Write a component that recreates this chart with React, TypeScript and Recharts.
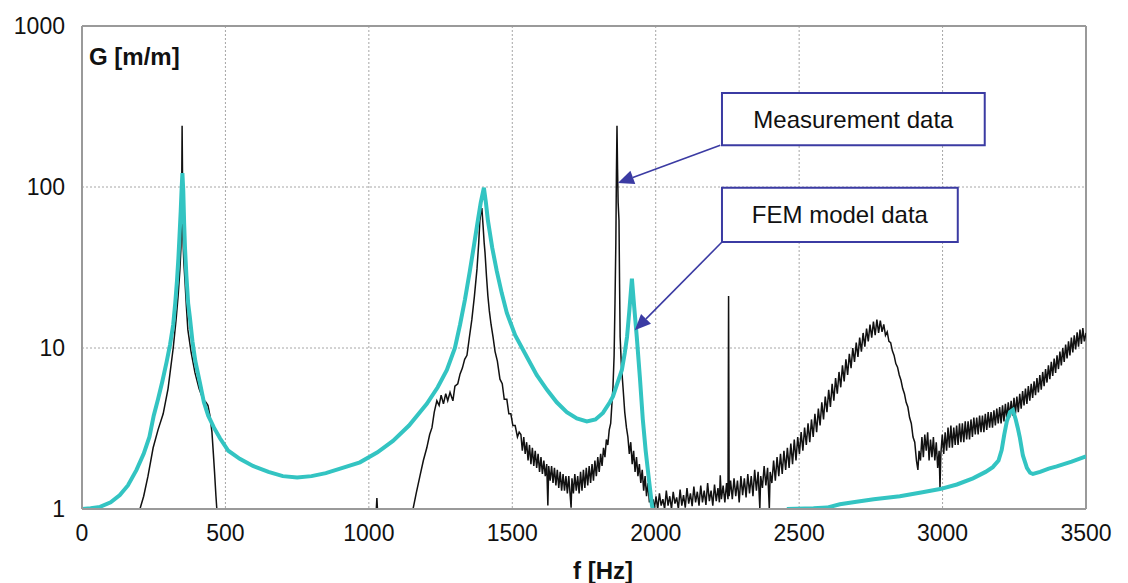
import {
  LineChart,
  Line,
  XAxis,
  YAxis,
  CartesianGrid,
  ReferenceLine,
  ReferenceArea,
  Label,
} from 'recharts';

// frequency [Hz] -> gain G [m/m]; null breaks the trace where it drops below 1
const measurement: [number, number | null][] = [
  [202, 1.0], [215, 1.2], [230, 1.6], [248, 2.4], [265, 3.1], [283, 3.9], [300, 5.6], [318, 10],
  [328, 15], [335, 21], [341, 30], [345, 42], [347, 70], [349, 240], [351, 90], [352, 47],
  [355, 34], [359, 26], [364, 18], [369, 13], [380, 9.5], [394, 7], [408, 5.6], [422, 4.8],
  [432, 4.6], [439, 4.4], [446, 3.8], [453, 3.0], [458, 2.2], [462, 1.7], [467, 1.2], [470, 1.0],
  [471, null],
  [1026, 1.0], [1028, 1.17], [1030, 1.0], [1031, null],
  [1154, 1.0], [1165, 1.25], [1178, 1.6], [1190, 2.0], [1202, 2.4], [1212, 2.9], [1220, 3.2],
  [1228, 4.0], [1237, 4.7], [1245, 4.4], [1252, 5.1], [1260, 4.5], [1268, 5.2], [1275, 4.7],
  [1283, 5.3], [1293, 4.7], [1300, 5.8], [1310, 6.0], [1318, 6.9], [1326, 7.5], [1334, 8.5],
  [1342, 9.0], [1350, 11.5], [1359, 15], [1368, 21], [1377, 31], [1383, 45], [1387, 62],
  [1390, 68], [1394, 74], [1398, 58], [1402, 45], [1405, 39], [1410, 28], [1415, 21], [1420, 17],
  [1426, 14], [1433, 11.7], [1440, 9.5], [1448, 8.3], [1457, 6.4], [1465, 6.0], [1472, 4.8],
  [1481, 4.8], [1488, 3.9], [1495, 3.9], [1502, 3.3], [1510, 3.3], [1518, 2.8], [1524, 3.0],
  [1530, 2.9], [1535, 2.3], [1540, 2.8], [1545, 2.2], [1550, 2.6], [1555, 2.0], [1560, 2.5],
  [1565, 1.9], [1570, 2.4], [1575, 1.85], [1580, 2.3], [1585, 1.8], [1590, 2.2], [1595, 1.7],
  [1600, 2.1], [1605, 1.65], [1610, 2.0], [1615, 1.6], [1620, 1.9], [1624, 1.05], [1627, 1.85],
  [1632, 1.5], [1637, 1.85], [1642, 1.45], [1647, 1.8], [1652, 1.4], [1657, 1.75], [1662, 1.35],
  [1667, 1.7], [1672, 1.3], [1677, 1.65], [1682, 1.3], [1687, 1.6], [1692, 1.25], [1697, 1.6],
  [1702, 1.2], [1705, 1.02], [1708, 1.55], [1713, 1.25], [1718, 1.65], [1723, 1.3], [1728, 1.6],
  [1733, 1.25], [1738, 1.7], [1743, 1.3], [1748, 1.75], [1753, 1.35], [1758, 1.8], [1763, 1.4],
  [1768, 1.85], [1773, 1.45], [1778, 1.9], [1783, 1.5], [1788, 2.0], [1793, 1.6], [1798, 2.1],
  [1803, 1.7], [1808, 2.2], [1813, 1.85], [1818, 2.4], [1823, 2.1], [1828, 2.7], [1833, 2.5],
  [1838, 3.1], [1843, 3.4], [1847, 4.4], [1851, 5.7], [1855, 9], [1858, 19], [1861, 45],
  [1863, 120], [1865, 240], [1867, 130], [1869, 80], [1872, 62], [1874, 25], [1876, 11.7],
  [1880, 8], [1886, 5.7], [1892, 4.0], [1898, 3.2], [1903, 2.8], [1908, 2.2], [1913, 2.6],
  [1918, 1.9], [1923, 2.3], [1928, 1.7], [1933, 2.1], [1938, 1.6], [1943, 1.9], [1948, 1.45],
  [1953, 1.75], [1958, 1.3], [1963, 1.6], [1968, 1.2], [1973, 1.45], [1978, 1.1], [1983, 1.3],
  [1988, 1.0], [1991, 1.15],
  [1995, 1.0], [2001, 1.2], [2007, 1.0], [2013, 1.25], [2019, 1.05], [2025, 1.15], [2031, 1.0],
  [2037, 1.3], [2043, 1.05], [2049, 1.2], [2055, 1.0], [2061, 1.28], [2067, 1.08], [2073, 1.18],
  [2079, 1.0], [2085, 1.32], [2091, 1.05], [2097, 1.22], [2103, 1.02], [2109, 1.35], [2115, 1.08],
  [2121, 1.25], [2127, 1.04], [2133, 1.38], [2139, 1.1], [2145, 1.28], [2151, 1.05], [2157, 1.4],
  [2163, 1.1], [2169, 1.3], [2175, 1.06], [2181, 1.45], [2187, 1.12], [2193, 1.3], [2199, 1.05],
  [2205, 1.42], [2211, 1.12], [2217, 1.35], [2222, 1.1], [2225, 1.62], [2229, 1.15], [2235, 1.4],
  [2241, 1.1], [2247, 1.45], [2252, 1.15], [2254, 21], [2256, 1.2], [2261, 1.5], [2267, 1.15],
  [2273, 1.55], [2279, 1.2], [2285, 1.5], [2291, 1.1], [2297, 1.6], [2303, 1.22], [2309, 1.55],
  [2315, 1.18], [2321, 1.65], [2327, 1.25], [2333, 1.6], [2339, 1.2], [2345, 1.75], [2351, 1.3],
  [2357, 1.7], [2363, 1.0], [2366, 1.6], [2372, 1.35], [2378, 1.85], [2384, 1.4], [2390, 1.8],
  [2396, 1.0], [2399, 1.7], [2405, 1.45], [2411, 2.0], [2417, 1.5], [2423, 2.1], [2429, 1.6],
  [2435, 2.2], [2441, 1.65], [2447, 2.3], [2453, 1.75], [2459, 2.4], [2465, 1.8], [2471, 2.55],
  [2477, 1.9], [2483, 2.7], [2489, 2.0], [2495, 2.8], [2501, 2.2], [2507, 3.0], [2513, 2.3],
  [2519, 3.2], [2525, 2.5], [2531, 3.4], [2537, 2.6], [2543, 3.6], [2549, 2.8], [2555, 3.9],
  [2561, 3.0], [2567, 4.2], [2573, 3.3], [2579, 4.6], [2585, 3.6], [2591, 5.0], [2597, 4.0],
  [2603, 5.5], [2609, 4.3], [2615, 6.0], [2621, 4.7], [2627, 6.5], [2633, 5.2], [2639, 7.1],
  [2645, 5.7], [2651, 7.8], [2657, 6.2], [2663, 8.5], [2669, 6.8], [2675, 9.2], [2681, 7.5],
  [2687, 10.0], [2693, 8.2], [2699, 10.8], [2705, 8.8], [2711, 11.6], [2717, 9.5], [2723, 12.4],
  [2729, 10.2], [2735, 13.2], [2741, 11.0], [2747, 14.0], [2753, 11.6], [2759, 14.6], [2765, 12.0],
  [2771, 15.0], [2777, 12.4], [2783, 14.8], [2789, 12.6], [2795, 14.0], [2801, 12.0], [2807, 12.6],
  [2813, 11.0], [2819, 10.8], [2825, 9.6], [2831, 9.0], [2837, 8.0], [2843, 7.6], [2849, 6.8],
  [2855, 6.3], [2861, 5.6], [2867, 5.2], [2873, 4.6], [2879, 4.3], [2885, 3.7], [2891, 3.4],
  [2897, 2.8], [2903, 2.6], [2909, 2.0], [2914, 1.75], [2918, 2.3], [2923, 2.0], [2928, 2.8],
  [2933, 2.1], [2938, 2.9], [2943, 2.3], [2948, 3.0], [2953, 2.0], [2958, 2.7], [2963, 2.1],
  [2968, 2.8], [2973, 2.0], [2978, 2.6], [2983, 1.8], [2988, 2.3], [2991, 1.35], [2994, 2.2],
  [2999, 2.9], [3004, 2.2], [3009, 3.0], [3014, 2.3], [3019, 3.2], [3024, 2.4], [3029, 3.3],
  [3034, 2.4], [3039, 3.2], [3044, 2.5], [3049, 3.3], [3054, 2.5], [3059, 3.4], [3064, 2.6],
  [3069, 3.4], [3074, 2.6], [3079, 3.5], [3084, 2.7], [3089, 3.5], [3094, 2.7], [3099, 3.6],
  [3104, 2.8], [3109, 3.7], [3114, 2.9], [3119, 3.7], [3124, 2.9], [3129, 3.8], [3134, 3.0],
  [3139, 3.8], [3144, 3.0], [3149, 3.9], [3154, 3.1], [3159, 4.0], [3164, 3.2], [3169, 4.0],
  [3174, 3.2], [3179, 4.1], [3184, 3.3], [3189, 4.2], [3194, 3.4], [3199, 4.3], [3204, 3.4],
  [3209, 4.4], [3214, 3.5], [3219, 4.5], [3224, 3.6], [3229, 4.6], [3234, 3.7], [3239, 4.7],
  [3244, 3.8], [3249, 4.9], [3254, 3.9], [3259, 5.0], [3264, 4.0], [3269, 5.2], [3274, 4.2],
  [3279, 5.4], [3284, 4.4], [3289, 5.6], [3294, 4.5], [3299, 5.8], [3304, 4.7], [3309, 6.0],
  [3314, 4.9], [3319, 6.2], [3324, 5.1], [3329, 6.5], [3334, 5.3], [3339, 6.8], [3344, 5.5],
  [3349, 7.1], [3354, 5.8], [3359, 7.4], [3364, 6.1], [3369, 7.8], [3374, 6.4], [3379, 8.2],
  [3384, 6.7], [3389, 8.6], [3394, 7.0], [3399, 9.0], [3404, 7.4], [3409, 9.5], [3414, 7.8],
  [3419, 10.0], [3424, 8.2], [3429, 10.5], [3434, 8.6], [3439, 11.0], [3444, 9.0], [3449, 11.6],
  [3454, 9.4], [3459, 12.0], [3464, 9.8], [3469, 12.5], [3474, 10.2], [3479, 13.0], [3484, 10.6],
  [3489, 13.3], [3494, 11.0], [3500, 12.4],
];

const femModel: [number, number | null][] = [
  [0, 1.0], [30, 1.01], [63, 1.03], [100, 1.1], [132, 1.22], [160, 1.4], [190, 1.75], [215, 2.2],
  [235, 2.8], [250, 3.8], [265, 4.8], [280, 6.2], [295, 8.2], [307, 10.5], [318, 14], [325, 19],
  [331, 26], [336, 36], [340, 50], [344, 70], [347, 95], [350, 122], [353, 95], [356, 60],
  [359, 42], [364, 28], [370, 19], [376, 15.5], [385, 11], [395, 8.3], [411, 6.1], [425, 4.6],
  [440, 3.8], [460, 3.2], [481, 2.75], [510, 2.3], [550, 2.05], [596, 1.85], [650, 1.7],
  [700, 1.6], [750, 1.57], [800, 1.6], [850, 1.67], [900, 1.78], [969, 1.95], [1030, 2.25],
  [1084, 2.65], [1140, 3.3], [1202, 4.5], [1240, 5.7], [1272, 7.3], [1300, 10], [1318, 14],
  [1335, 20], [1352, 30], [1367, 44], [1380, 62], [1390, 80], [1401, 99], [1408, 80], [1415, 62],
  [1430, 42], [1446, 30], [1463, 22], [1481, 16.5], [1510, 12], [1551, 8.8], [1585, 6.8],
  [1621, 5.5], [1655, 4.6], [1690, 4.0], [1725, 3.65], [1760, 3.5], [1790, 3.6], [1816, 3.95],
  [1840, 4.6], [1851, 5.0], [1866, 6.0], [1882, 7.3], [1892, 9.3], [1900, 11.7], [1908, 17],
  [1917, 27], [1925, 18], [1934, 11.7], [1945, 6.5], [1955, 3.6], [1965, 2.3], [1975, 1.6],
  [1987, 1.05], [1990, 1.0], [1991, null],
  [2455, null], [2457, 1.0], [2550, 1.01], [2597, 1.02], [2642, 1.07], [2700, 1.11], [2760, 1.15],
  [2851, 1.2], [2930, 1.27], [2991, 1.33], [3050, 1.42], [3106, 1.55], [3150, 1.7], [3175, 1.82],
  [3195, 2.0], [3206, 2.32], [3215, 2.9], [3224, 3.5], [3235, 4.0], [3245, 4.12], [3255, 3.6],
  [3262, 3.2], [3269, 2.8], [3280, 2.15], [3294, 1.8], [3305, 1.68], [3315, 1.65], [3340, 1.7],
  [3370, 1.78], [3398, 1.84], [3450, 1.97], [3500, 2.12],
];

const xTicks = [0, 500, 1000, 1500, 2000, 2500, 3000, 3500];
const yTicks = [1, 10, 100, 1000];

const FONT = '"Liberation Sans", Arial, sans-serif';
const NAVY = '#3b3ba3';
const TEAL = '#33c4c2';
const GRID = '#a6a6a6';

const toPoints = (rows: [number, number | null][]) => rows.map(([f, g]) => ({ f, g }));

// line from a callout box to the curve, with a filled arrowhead at the curve end
function Arrow(props: any) {
  const { x1, y1, x2, y2 } = props;
  const ang = Math.atan2(y2 - y1, x2 - x1);
  const len = 16;
  const half = 7;
  const bx = x2 - len * Math.cos(ang);
  const by = y2 - len * Math.sin(ang);
  const px = -Math.sin(ang) * half;
  const py = Math.cos(ang) * half;
  return (
    <g>
      <line x1={x1} y1={y1} x2={bx} y2={by} stroke={NAVY} strokeWidth={1.6} />
      <polygon
        points={`${x2},${y2} ${bx + px},${by + py} ${bx - px},${by - py}`}
        fill={NAVY}
      />
    </g>
  );
}

export default function App() {
  const measData = toPoints(measurement);
  const femData = toPoints(femModel);

  return (
    <div style={{ position: 'absolute', left: 0, top: 0, background: '#fff' }}>
      <LineChart
        width={1128}
        height={583}
        margin={{ top: 26, right: 42, bottom: 0, left: 0 }}
        style={{ fontFamily: FONT }}
      >
        <CartesianGrid stroke={GRID} strokeDasharray="2 2" />
        <XAxis
          dataKey="f"
          type="number"
          domain={[0, 3500]}
          ticks={xTicks}
          allowDataOverflow
          height={74}
          tickSize={0}
          tickMargin={16}
          axisLine={{ stroke: '#9a9a9a', strokeWidth: 2 }}
          tick={{ fill: '#111', fontSize: 23 }}
        >
          <Label
            value="f [Hz]"
            position="insideBottom"
            offset={4}
            dx={19}
            style={{ fontWeight: 'bold', fontSize: 24, fill: '#111' }}
          />
        </XAxis>
        <YAxis
          dataKey="g"
          type="number"
          scale="log"
          domain={[1, 1000]}
          ticks={yTicks}
          allowDataOverflow
          width={82}
          tickSize={0}
          tickMargin={17}
          axisLine={{ stroke: '#9a9a9a', strokeWidth: 2 }}
          tick={{ fill: '#111', fontSize: 23 }}
        >
          <Label
            content={(p: any) => {
              const vb = p.viewBox;
              return (
                <text
                  x={vb.x + vb.width + 7}
                  y={vb.y + 39}
                  fontWeight="bold"
                  fontSize={24}
                  fill="#111"
                  fontFamily={FONT}
                >
                  G [m/m]
                </text>
              );
            }}
          />
        </YAxis>
        <ReferenceLine y={1000} stroke="#9a9a9a" strokeWidth={2} />
        <ReferenceLine x={3500} stroke="#9a9a9a" strokeWidth={2} />

        <Line
          data={measData}
          dataKey="g"
          type="linear"
          stroke="#111"
          strokeWidth={1.5}
          dot={false}
          activeDot={false}
          connectNulls={false}
          isAnimationActive={false}
        />
        <Line
          data={femData}
          dataKey="g"
          type="linear"
          stroke={TEAL}
          strokeWidth={4}
          dot={false}
          activeDot={false}
          connectNulls={false}
          isAnimationActive={false}
        />

        <ReferenceArea
          x1={2231}
          x2={3147}
          y1={182}
          y2={384}
          fill="#fff"
          fillOpacity={1}
          stroke={NAVY}
          strokeWidth={2}
          ifOverflow="visible"
        >
          <Label value="Measurement data" position="center" fontSize={24} fill="#111" />
        </ReferenceArea>
        <ReferenceArea
          x1={2231}
          x2={3053}
          y1={45.5}
          y2={99}
          fill="#fff"
          fillOpacity={1}
          stroke={NAVY}
          strokeWidth={2}
          ifOverflow="visible"
        >
          <Label value="FEM model data" position="center" fontSize={24} fill="#111" />
        </ReferenceArea>
        <ReferenceLine
          segment={[{ x: 2225, y: 182 }, { x: 1868, y: 106 }]}
          shape={Arrow}
          ifOverflow="visible"
        />
        <ReferenceLine
          segment={[{ x: 2231, y: 45.5 }, { x: 1927, y: 12.9 }]}
          shape={Arrow}
          ifOverflow="visible"
        />
      </LineChart>
    </div>
  );
}
